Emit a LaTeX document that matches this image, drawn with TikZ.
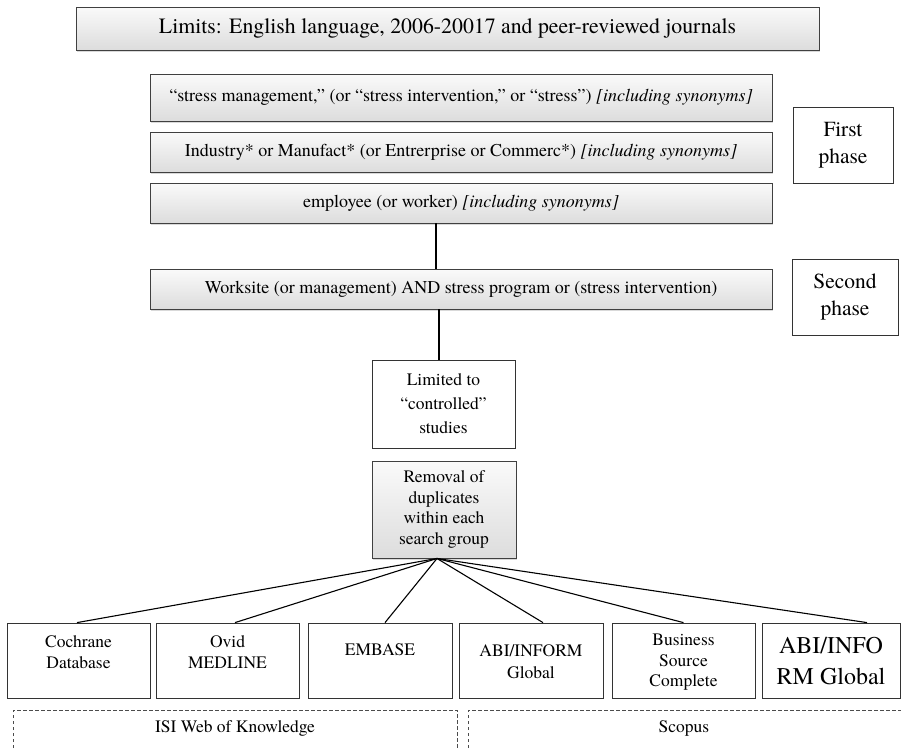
\documentclass[tikz,border=0pt]{standalone}
\usepackage{fontspec}
\setmainfont{texgyretermes}[Extension=.otf, UprightFont=*-regular, ItalicFont=*-italic, BoldFont=*-bold, BoldItalicFont=*-bolditalic]
\usetikzlibrary{shadows,calc}
\tikzset{
  graybox/.style={draw=black!75, line width=0.9pt, top color=gray!4, bottom color=gray!27,
    drop shadow={shadow xshift=1.3pt, shadow yshift=-1.8pt, opacity=0.3}, inner sep=0pt, align=center},
  whitebox/.style={draw=black!80, line width=0.8pt, fill=white, inner sep=0pt, align=center},
  plainbox/.style={draw=black!80, line width=0.8pt, inner sep=0pt},
  txt/.style={inner sep=0pt, align=center},
  conn/.style={line width=1.6pt, black},
  fan/.style={line width=1.1pt, black},
  grp/.style={draw=black!70, line width=0.7pt, dash pattern=on 3.5pt off 2.5pt},
  qfont/.style={font=\fontsize{18}{21}\selectfont},
  pfont/.style={font=\fontsize{21.5}{27}\selectfont},
  dfont/.style={font=\fontsize{17.5}{20.5}\selectfont},
}
\begin{document}
\begin{tikzpicture}[x=1pt,y=-1pt]
\useasboundingbox (0,0) rectangle (901,748);

% top limits box
\node[graybox, minimum width=743pt, minimum height=43pt, font=\fontsize{21.8}{25}\selectfont] (limits) at (447.5,28.5)
  {Limits: English language, 2006-20017 and peer-reviewed journals};

% first phase query boxes
\node[graybox, qfont, minimum width=622pt, minimum height=47pt] (q1) at (461,97.5)
  {“stress management,” (or “stress intervention,” or “stress”) \textit{[including synonyms]}};
\node[graybox, qfont, minimum width=622pt, minimum height=40pt] (q2) at (461,152)
  {Industry* or Manufact* (or Entrerprise or Commerc*) \textit{[including synonyms]}};
\node[graybox, qfont, minimum width=622pt, minimum height=40pt] (q3) at (461,203)
  {employee (or worker) \textit{[including synonyms]}};
\node[graybox, qfont, minimum width=622pt, minimum height=40pt] (q4) at (461,289)
  {Worksite (or management) AND stress program or (stress intervention)};

% phase labels
\node[whitebox, pfont, minimum width=100pt, minimum height=76pt] (p1) at (843,145) {First\\phase};
\node[whitebox, pfont, minimum width=106pt, minimum height=76pt] (p2) at (845,297) {Second\\phase};

% middle boxes
\node[whitebox, font=\fontsize{17.5}{24}\selectfont, minimum width=143pt, minimum height=88pt] (lim) at (443.5,404)
  {Limited to\\“controlled”\\studies};
\node[graybox, font=\fontsize{17.5}{20.7}\selectfont, minimum width=144pt, minimum height=97pt] (rem) at (444,509.5)
  {Removal of\\duplicates\\within each\\search group};

% connectors
\draw[conn] ([xshift=-25pt]q3.south) -- ([xshift=-25pt]q4.north);
\draw[conn] ([xshift=-4.5pt]lim.north) coordinate (l2) -- (l2 |- q4.south);

% database boxes
\node[plainbox, minimum width=143pt, minimum height=75pt] (c1) at (78.5,660.5) {};
\node[plainbox, minimum width=143pt, minimum height=75pt] (c2) at (227.5,660.5) {};
\node[plainbox, minimum width=144pt, minimum height=75pt] (c3) at (380,660.5) {};
\node[plainbox, minimum width=144pt, minimum height=75pt] (c4) at (531,660.5) {};
\node[plainbox, minimum width=143pt, minimum height=75pt] (c5) at (683.5,660.5) {};
\node[plainbox, minimum width=138pt, minimum height=75pt] (c6) at (831,660.5) {};

\node[txt, dfont] (c1t) at (78.5,652) {Cochrane\\Database};
\node[txt, dfont] (c2t) at (227.5,652) {Ovid\\MEDLINE};
\node[txt, dfont] (c3t) at (380,650) {EMBASE};
\node[txt, font=\fontsize{17.5}{22}\selectfont] (c4t) at (531,662) {ABI/INFORM\\Global};
\node[txt, dfont] (c5t) at (683.5,662.5) {Business\\Source\\Complete};
\node[txt, font=\fontsize{24}{31}\selectfont] (c6t) at (831,661.5) {ABI/INFO\\RM Global};

% fan connectors
\coordinate (hub) at ([xshift=-7pt]rem.south);
\draw[fan] (hub) -- ([xshift=-1.5pt]c1.north);
\draw[fan] (hub) -- ([xshift=7.5pt]c2.north);
\draw[fan] (hub) -- ([xshift=5pt]c3.north);
\draw[fan] (hub) -- ([xshift=12pt]c4.north);
\draw[fan] (hub) -- (c5.north);
\draw[fan] (hub) -- ([xshift=36pt]c6.north);

% search groups
\draw[grp] (13,748) |- (457,710) -- (457,748);
\draw[grp] (468,748) |- (901,710);
\node[txt, dfont] (isi) at (235,728) {ISI Web of Knowledge};
\node[txt, dfont] (sco) at (684,728) {Scopus};
\end{tikzpicture}
\end{document}
